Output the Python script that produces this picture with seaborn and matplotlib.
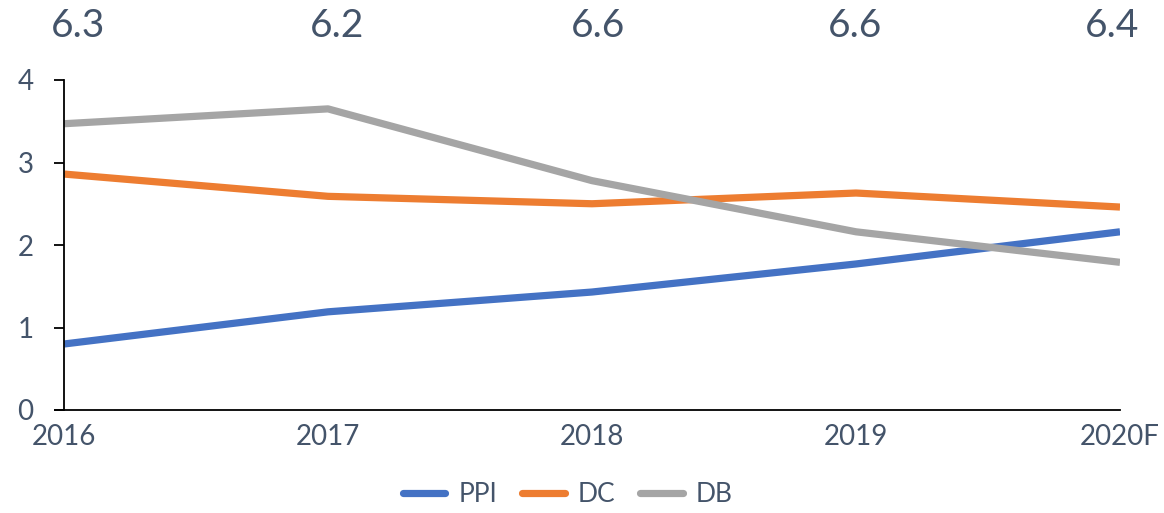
import matplotlib
matplotlib.use("Agg")
import matplotlib.pyplot as plt
import seaborn as sns
import pandas as pd

years = ["2016", "2017", "2018", "2019", "2020F"]
ppi = [0.80, 1.19, 1.43, 1.77, 2.16]
dc = [2.86, 2.59, 2.50, 2.63, 2.46]
db = [3.47, 3.65, 2.78, 2.16, 1.79]
totals = ["6.3", "6.2", "6.6", "6.6", "6.4"]
series_names = ["PPI", "DC", "DB"]
colors = ["#4472C4", "#ED7D31", "#A5A5A5"]

sns.set_theme(style="white")
plt.rcParams["font.family"] = ["Lato", "DejaVu Sans"]
text_color = "#44546A"

rows = []
for name, vals in zip(series_names, [ppi, dc, db]):
    for i, v in enumerate(vals):
        rows.append({"x": i, "value": v, "series": name})
df = pd.DataFrame(rows)

fig = plt.figure(figsize=(11.64, 5.13), dpi=100)
ax = fig.add_axes([64 / 1164, 1 - 410 / 513, (1120 - 64) / 1164, (410 - 80) / 513])

sns.lineplot(data=df, x="x", y="value", hue="series", hue_order=series_names,
             palette=colors, linewidth=5.2, ax=ax, legend=True)
for line in ax.get_lines():
    line.set_solid_capstyle("butt")

ax.set_xlim(0, 4)
ax.set_ylim(0, 4)
ax.set_xticks(range(len(years)))
ax.set_xticklabels(years)
ax.set_yticks([0, 1, 2, 3, 4])
ax.set_xlabel("")
ax.set_ylabel("")

for s in ["top", "right"]:
    ax.spines[s].set_visible(False)
for s in ["left", "bottom"]:
    ax.spines[s].set_color("black")
    ax.spines[s].set_linewidth(1.3)
ax.spines["bottom"].set_bounds(-0.035, 4)
ax.spines["bottom"].set_clip_on(False)

ax.tick_params(axis="y", which="major", left=True, length=7, width=1.3, color="black",
               direction="out", pad=15, labelsize=20, labelcolor=text_color)
ax.tick_params(axis="x", which="major", bottom=False, length=0, pad=10,
               labelsize=20, labelcolor=text_color)

# Top totals
top_x = [78, 337, 598, 855, 1112]
for xp, t in zip(top_x, totals):
    fig.text(xp / 1164, 1 - 26 / 513, t, ha="center", va="center",
             fontsize=28, color=text_color)

handles, labels = ax.get_legend_handles_labels()
leg = ax.legend(handles, labels, loc="center", bbox_to_anchor=(568 / 1164, 1 - 495 / 513),
                bbox_transform=fig.transFigure, ncol=3, frameon=False, fontsize=19,
                handlelength=1.6, columnspacing=0.95, handletextpad=0.5)
for txt in leg.get_texts():
    txt.set_color(text_color)
for lh in leg.get_lines():
    lh.set_linewidth(5.2)
    lh.set_solid_capstyle("round")

fig.savefig("out.png", dpi=100)
